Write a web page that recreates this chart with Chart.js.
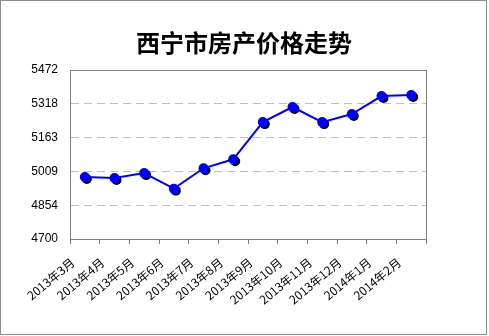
<!DOCTYPE html>
<html>
<head>
<meta charset="utf-8">
<script src="https://cdn.jsdelivr.net/npm/chart.js@4"></script>
<style>
  html, body { margin: 0; padding: 0; background: #fff; }
</style>
</head>
<body>
<canvas id="priceChart" width="489" height="336"></canvas>
<script>
// 西宁市房产价格走势 (元/平方米)
const chartTitle = "西宁市房产价格走势";
const months = ["2013年3月", "2013年4月", "2013年5月", "2013年6月", "2013年7月", "2013年8月",
  "2013年9月", "2013年10月", "2013年11月", "2013年12月", "2014年1月", "2014年2月"];
const prices = [4983, 4979, 5001, 4930, 5023, 5064, 5234, 5303, 5234, 5271, 5353, 5358];
const yTicks = [4700, 4854, 5009, 5163, 5318, 5472];

// grey box round the plot, the title, and a box round the whole picture
const frame = {
  id: "frame",
  beforeDatasetsDraw(chart) {
    const { ctx, chartArea: a } = chart;
    ctx.save();
    ctx.strokeStyle = "#808080";
    ctx.lineWidth = 1;
    ctx.strokeRect(Math.round(a.left) + 0.5, Math.round(a.top) + 0.5,
      Math.round(a.right - a.left), Math.round(a.bottom - a.top));
    ctx.restore();
  },
  afterDraw(chart) {
    const ctx = chart.ctx;
    ctx.save();
    ctx.strokeStyle = "#8c8c8c";
    ctx.lineWidth = 1;
    ctx.strokeRect(0.5, 0.5, 486, 334);
    ctx.fillStyle = "#000";
    ctx.font = "bold 24px 'Noto Sans CJK SC'";
    ctx.textAlign = "center";
    ctx.textBaseline = "middle";
    ctx.fillText(chartTitle, 244, 43);
    ctx.restore();
  }
};

// black drop shadow under the markers only
const dotShadow = {
  id: "dotShadow",
  beforeDatasetDraw(chart, args) {
    if (args.index !== 1) return;
    const ctx = chart.ctx;
    ctx.save();
    ctx.shadowColor = "#000";
    ctx.shadowOffsetX = 2;
    ctx.shadowOffsetY = 2;
    ctx.shadowBlur = 0;
  },
  afterDatasetDraw(chart, args) {
    if (args.index === 1) chart.ctx.restore();
  }
};

new Chart(document.getElementById("priceChart"), {
  type: "line",
  data: {
    labels: months,
    datasets: [
      {
        data: prices,
        borderColor: "#0000ff",
        borderWidth: 2,
        pointRadius: 0,
        tension: 0
      },
      {
        data: prices,
        showLine: false,
        pointRadius: 5,
        pointBackgroundColor: "#0000ff",
        pointBorderColor: "#0000ff",
        pointBorderWidth: 0
      }
    ]
  },
  options: {
    responsive: false,
    animation: false,
    layout: { padding: { left: 0, right: 63, top: 70, bottom: 0 } },
    plugins: {
      legend: { display: false },
      tooltip: { enabled: false },
      title: { display: false }
    },
    scales: {
      x: {
        offset: true,
        afterFit: s => { s.height = 97; },
        grid: { offset: true, drawOnChartArea: false, drawTicks: true, tickLength: 5, color: "#808080" },
        border: { color: "#808080" },
        ticks: {
          autoSkip: false,
          minRotation: 40,
          maxRotation: 40,
          padding: 11,
          labelOffset: -12,
          color: "#000",
          font: { family: "'Noto Sans CJK SC'", size: 12 }
        }
      },
      y: {
        min: 4700,
        max: 5472,
        afterBuildTicks: s => { s.ticks = yTicks.map(v => ({ value: v })); },
        afterFit: s => { s.width = 70; },
        grid: { color: "#c0c0c0", drawTicks: false },
        border: { color: "#808080", dash: [8, 5] },
        ticks: {
          padding: 12,
          color: "#000",
          font: { family: "'Liberation Sans', Arial", size: 12 },
          callback: v => String(Math.round(v))
        }
      }
    }
  },
  plugins: [frame, dotShadow]
});
</script>
</body>
</html>
